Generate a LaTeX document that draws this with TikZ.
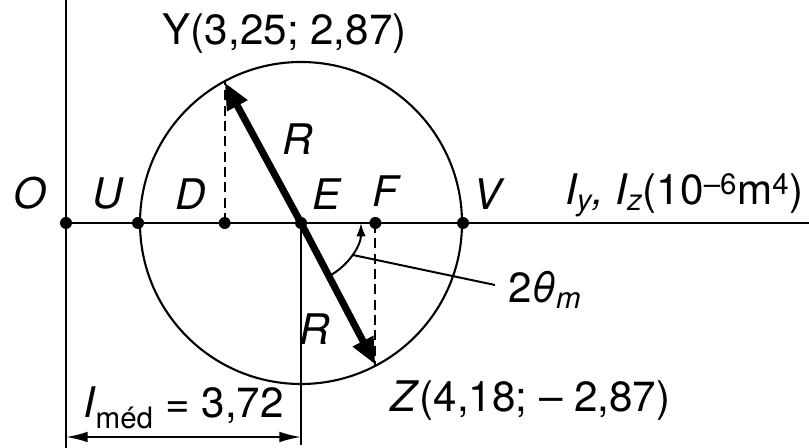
\documentclass[tikz,border=0pt]{standalone}
\usepackage{fontspec}
\setmainfont{TeX Gyre Heros}
\usetikzlibrary{arrows.meta, positioning, calc}

\tikzstyle{pt} = [circle, fill=black, inner sep=0pt, minimum size=3.6mm]
\tikzstyle{lbl} = [inner sep=0pt, font=\fontsize{36}{40}\selectfont]
\tikzstyle{ilbl} = [inner sep=0pt, font=\fontsize{36}{40}\selectfont\itshape]
\tikzstyle{axis} = [draw, line width=1.9pt]
\tikzstyle{thin} = [draw, line width=1.7pt]
\tikzstyle{rline} = [draw, line width=6pt, -{Triangle[length=8mm, width=6.5mm]}]
\tikzstyle{proj} = [draw, line width=1.7pt, dash pattern=on 3mm off 1.6mm]
\tikzstyle{dimline} = [draw, line width=1.7pt, {Latex[length=6.5mm, width=3.2mm]}-{Latex[length=6.5mm, width=3.2mm]}]
\tikzstyle{anglearc} = [draw, line width=1.7pt, -{Latex[length=4mm, width=2.8mm]}]

\begin{document}
\begin{tikzpicture}[x=0.3mm, y=0.3mm]
    \useasboundingbox (0,0) rectangle (809,448);

    % points on the axis
    \node (O) [pt] at (66,225) {};
    \node (E) [pt] at (301,225) {};
    \coordinate (Y) at ($(E)+(118.5:160)$);
    \coordinate (Z) at ($(E)+(-62.3:160)$);
    \node (U) [pt] at ($(E)+(-163,0)$) {};
    \node (D) [pt] at (Y |- E) {};
    \node (F) [pt] at (Z |- E) {};
    \node (V) [pt] at ($(E)+(162,0)$) {};

    % axes and circle
    \coordinate (Otop) at (O |- 0,448);
    \coordinate (Obot) at (O |- 0,0);
    \coordinate (axend) at (809,225);
    \path [axis] (Otop) -- (Obot);
    \path [axis] (O.center) -- (axend);
    \draw [line width=1.8pt] (E.center) circle[radius=161];

    \path [proj] (D.center) -- (Y);
    \path [proj] (F.center) -- (Z);

    \path [rline] (E.center) -- (Y) node[ilbl, pos=0.6, right=7mm] (Rup) {R};
    \path [rline] (E.center) -- (Z) node[ilbl, pos=0.75, left=7mm] (Rdn) {R};

    % angle 2 theta
    \coordinate (arcstart) at ($(E)+(-62.3:60)$);
    \path [anglearc] (arcstart) arc[start angle=-62.3, end angle=0, radius=60];
    \coordinate (lead0) at ($(E)+(-32:60)$);
    \coordinate (lead1) at (495,163);
    \path [thin] (lead0) -- (lead1);
    \node (theta) [lbl, anchor=base west] at (508,145) {2\textit{θ}\textsubscript{\textit{m}}};

    % dimension
    \coordinate (Ebot) at (E |- 0,3);
    \path [thin] (E.center) -- (Ebot);
    \coordinate (dimL) at (O |- 0,11);
    \coordinate (dimR) at (E |- 0,11);
    \path [dimline] (dimL) -- (dimR) node[lbl, midway, above=2mm] (Imed) {\textit{I}\textsubscript{méd} = 3,72};

    % labels
    \node (lO) [ilbl, above left=2.6mm and 4.4mm of O] {O};
    \node (lU) [ilbl, above left=2.6mm and 3.2mm of U] {U};
    \node (lD) [ilbl, above left=2.6mm and 4.1mm of D] {D};
    \node (lE) [ilbl, above right=2.6mm and 2mm of E] {E};
    \node (lF) [ilbl, above=3mm of F, xshift=3mm] {F};
    \node (lV) [ilbl, above right=2.6mm and 1.7mm of V] {V};
    \node (axlbl) [lbl, anchor=base west] at (565,243) {\textit{I\textsubscript{y}, I\textsubscript{z}}(10\textsuperscript{--6}m\textsuperscript{4})};
    \node (lY) [lbl, above=8.5mm of Y, xshift=18mm] {Y(3,25; 2,87)};
    \node (lZ) [lbl, below right=4.8mm and 4.5mm of Z] {\textit{Z}(4,18; -- 2,87)};

\end{tikzpicture}
\end{document}
